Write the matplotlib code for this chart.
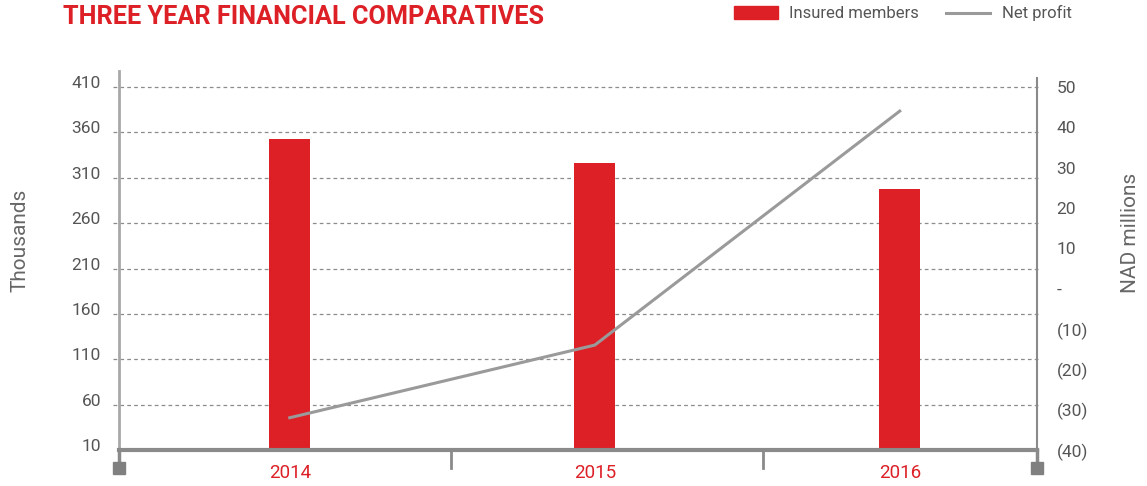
#!/usr/bin/env python3
"""
Three year financial comparatives chart:
insured members (bars, left axis) and net profit (line, right axis).
"""

import matplotlib
matplotlib.use("Agg")
import matplotlib.pyplot as plt
import matplotlib.transforms as mtransforms
from matplotlib.patches import Rectangle
from matplotlib.lines import Line2D

# Data
years = ["2014", "2015", "2016"]
insured_members = [353, 326, 298]        # thousands
net_profit = [-32, -14, 44]              # NAD millions

left_ticks = [10, 60, 110, 160, 210, 260, 310, 360, 410]
right_ticks = [50, 40, 30, 20, 10, 0, -10, -20, -30, -40]
right_labels = ["50", "40", "30", "20", "10", "-", "(10)", "(20)", "(30)", "(40)"]

RED = "#dd1f26"
LINE_GREY = "#9a9a9a"
AXIS_GREY = "#8a8a8a"
TEXT_GREY = "#555555"

plt.rcParams["font.family"] = ["Roboto", "DejaVu Sans"]

W, H = 1147, 486


def fx(px):
    return px / W


def fy(py):
    return 1 - py / H


def main():
    fig = plt.figure(figsize=(W / 100, H / 100), dpi=100)
    # axes box: left spine x=119, right spine x=1037, baseline y=450, top y=78
    ax = fig.add_axes([fx(119), fy(450), fx(1037) - fx(119), (450 - 78) / H])
    ax2 = ax.twinx()

    x = list(range(len(years)))
    ax.set_xlim(-0.56, 2.45)
    ax.set_ylim(10, 420)
    ax2.set_ylim(-40, 52.2)

    # dashed gridlines for the left scale
    for v in left_ticks[1:]:
        ax.plot([-0.58, 2.46], [v, v], color="#8c8c8c", lw=0.9,
                ls=(0, (3, 2.5)), clip_on=False, zorder=1)

    ax.bar(x, insured_members, width=0.135, color=RED, zorder=2)
    ax2.plot(x, net_profit, color=LINE_GREY, lw=2.2, zorder=3)

    # spines
    for a in (ax, ax2):
        for s in a.spines.values():
            s.set_visible(False)
    ax.plot([0, 0], [0, 1.02], transform=ax.transAxes, color="#a8a8a8",
            lw=2, clip_on=False)
    ax.plot([1, 1], [0, 1.0], transform=ax.transAxes, color=AXIS_GREY,
            lw=1.5, clip_on=False)
    ax.plot([0, 1], [0, 0], transform=ax.transAxes, color=AXIS_GREY,
            lw=3, clip_on=False, zorder=4)

    # stubs, dividers and end squares below the baseline
    trans = mtransforms.blended_transform_factory(ax.transData, fig.transFigure)
    for xv in (0.53, 1.55):
        ax.plot([xv, xv], [fy(450), fy(468)], transform=trans, color=AXIS_GREY,
                lw=2, clip_on=False)
    for xv in (-0.56, 2.45):
        ax.plot([xv, xv], [fy(450), fy(463)], transform=trans, color=AXIS_GREY,
                lw=2.5, clip_on=False)
        ax.plot([xv], [fy(468)], transform=trans, marker="s", ms=8.5,
                color="#808080", clip_on=False)

    # ticks
    ax.set_xticks(x)
    ax.set_xticklabels(years, color=RED, fontsize=13.5)
    ax.tick_params(axis="x", length=0, pad=10)

    ax.set_yticks(left_ticks)
    ax.set_yticklabels([str(v) for v in left_ticks], color=TEXT_GREY, fontsize=12.5)
    ax.tick_params(axis="y", length=0, pad=13)
    shift = mtransforms.ScaledTranslation(0, 5 / 100, fig.dpi_scale_trans)
    for lab in ax.get_yticklabels():
        lab.set_transform(lab.get_transform() + shift)

    ax2.set_yticks(right_ticks)
    ax2.set_yticklabels(right_labels, color=TEXT_GREY, fontsize=12.5)
    ax2.tick_params(axis="y", length=0, pad=14)

    # axis titles
    fig.text(fx(20), fy(240), "Thousands", rotation=90, ha="center", va="center",
             color="#666666", fontsize=15)
    fig.text(fx(1130), fy(233), "NAD millions", rotation=90, ha="center",
             va="center", color="#666666", fontsize=15)

    # title
    fig.text(fx(63), fy(17), "THREE YEAR FINANCIAL COMPARATIVES", ha="left",
             va="center", color=RED, fontsize=18.2, fontweight="bold")

    # legend drawn by hand to match the header placement
    fig.patches.append(Rectangle((fx(734), fy(19)), fx(778) - fx(734),
                                 (19 - 6) / H, transform=fig.transFigure,
                                 color=RED))
    fig.text(fx(789), fy(13), "Insured members", ha="left", va="center",
             color=TEXT_GREY, fontsize=12)
    fig.lines.append(Line2D([fx(946), fx(990)], [fy(13), fy(13)],
                            transform=fig.transFigure, color=LINE_GREY, lw=2.2))
    fig.text(fx(1002), fy(13), "Net profit", ha="left", va="center",
             color=TEXT_GREY, fontsize=12)

    fig.savefig("out.png", dpi=100)
    plt.close(fig)


if __name__ == "__main__":
    main()
